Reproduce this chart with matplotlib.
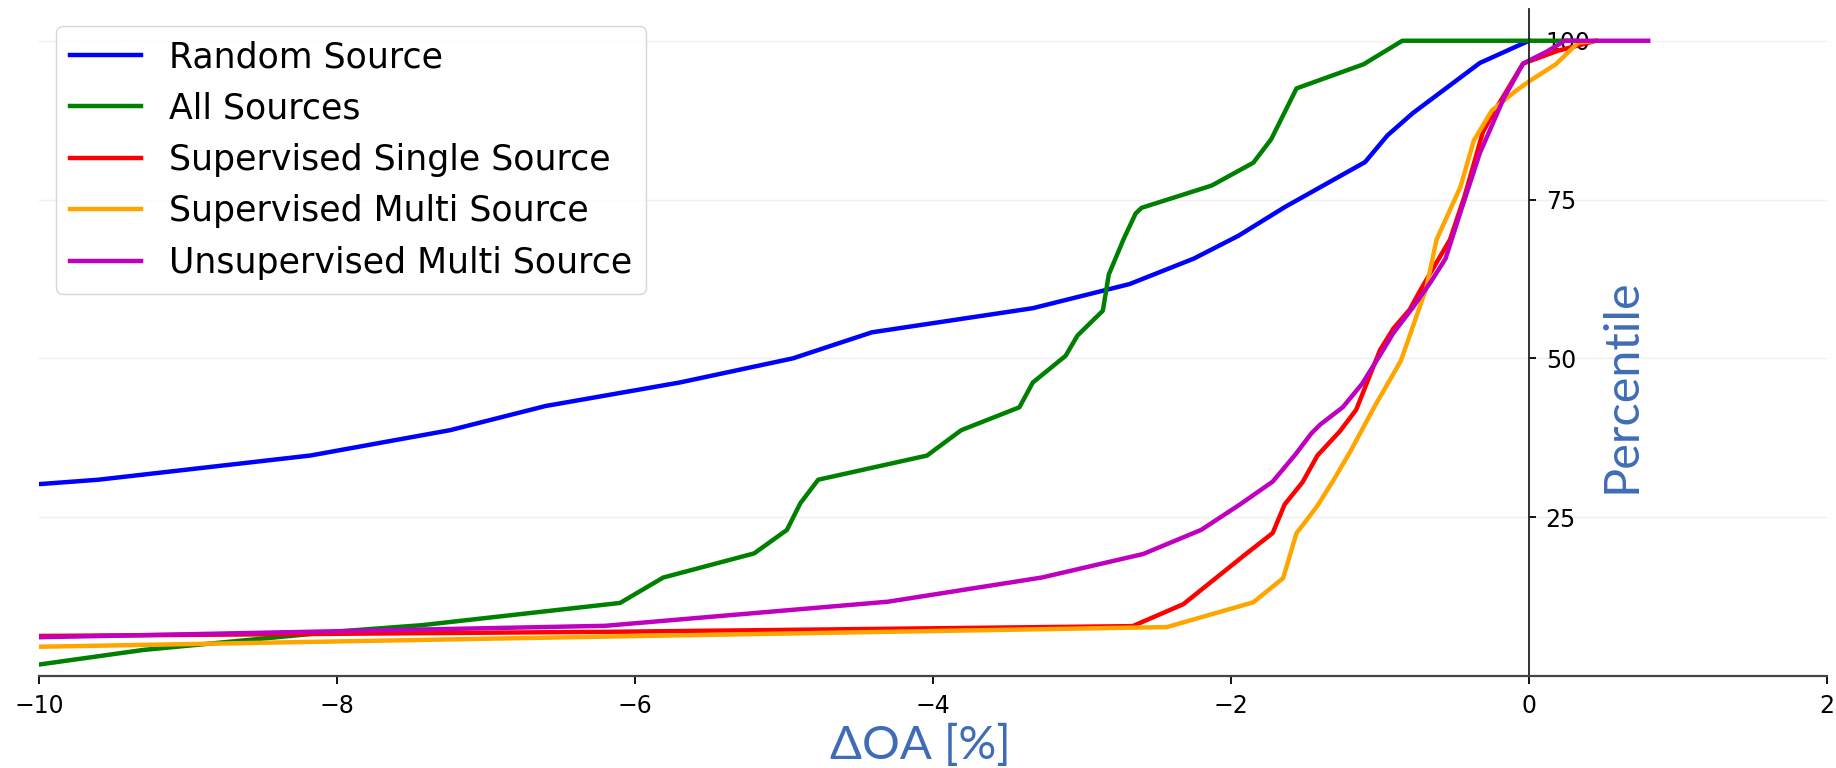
import numpy as np
import matplotlib
matplotlib.use("Agg")
import matplotlib.pyplot as plt

# curves (x = delta OA in %, y = percentile)
random_x = [-10, -9.6, -8.18, -7.24, -6.6, -5.7, -4.94, -4.41, -3.33, -2.68, -2.25, -1.95,
            -1.64, -1.10, -0.95, -0.78, -0.33, 0]
random_y = [30.2, 30.9, 34.7, 38.7, 42.5, 46.2, 50.0, 54.1, 57.9, 61.7, 65.7, 69.3,
            73.8, 80.9, 85.1, 88.6, 96.5, 100]

all_x = [-10, -9.3, -8.0, -7.43, -6.1, -5.81, -5.2, -4.98, -4.89, -4.77, -4.04, -3.81,
         -3.42, -3.33, -3.11, -3.03, -2.86, -2.82, -2.72, -2.64, -2.60, -2.13, -1.85,
         -1.73, -1.56, -1.11, -0.85, 0.3]
all_y = [1.8, 4.1, 7.0, 8.0, 11.5, 15.5, 19.3, 23.0, 27.2, 30.9, 34.7, 38.7,
         42.3, 46.2, 50.4, 53.6, 57.5, 63.2, 68.8, 72.8, 73.7, 77.2, 80.8,
         84.5, 92.5, 96.3, 100, 100]

sup_single_x = [-10, -6.2, -2.66, -2.32, -1.9, -1.72, -1.64, -1.52, -1.42, -1.27, -1.16,
                -1.0, -0.91, -0.80, -0.73, -0.53, -0.43, -0.31, -0.24, -0.04, 0.19, 0.45]
sup_single_y = [6.3, 6.95, 7.85, 11.3, 19.2, 22.5, 27.0, 30.5, 34.7, 38.5, 41.9,
                51.3, 54.7, 57.7, 60.7, 68.7, 75.7, 85.6, 88.6, 96.4, 98.4, 100]

sup_multi_x = [-10, -6.2, -2.43, -1.85, -1.65, -1.56, -1.50, -1.42, -1.31, -1.20, -1.03,
               -0.86, -0.69, -0.62, -0.46, -0.37, -0.25, -0.10, 0, 0.18, 0.33, 0.45]
sup_multi_y = [4.6, 6.2, 7.7, 11.6, 15.4, 22.5, 24.3, 26.8, 30.9, 35.3, 42.7,
               49.6, 61.0, 68.7, 77.0, 84.3, 89.0, 91.9, 93.6, 96.3, 99.7, 100]

unsup_multi_x = [-10, -6.2, -4.3, -3.27, -2.59, -2.2, -1.94, -1.72, -1.57, -1.46, -1.40,
                 -1.25, -1.12, -1.0, -0.91, -0.78, -0.66, -0.56, -0.46, -0.33, -0.17,
                 -0.04, 0.12, 0.24, 0.8]
unsup_multi_y = [6.1, 7.9, 11.7, 15.5, 19.2, 23.0, 27.0, 30.6, 34.8, 38.2, 39.6,
                 42.3, 46.0, 50.5, 54.0, 58.0, 62.0, 65.7, 73.0, 82.3, 90.9,
                 96.4, 98.3, 100, 100]

labels = ["Random Source", "All Sources", "Supervised Single Source",
          "Supervised Multi Source", "Unsupervised Multi Source"]
colors = ["blue", "green", "red", "orange", "m"]
xticks = [-10, -8, -6, -4, -2, 0, 2]
yticks = [25, 50, 75, 100]

label_color = "#3f6db5"

fig = plt.figure(figsize=(18.36, 7.68), dpi=100)
ax = fig.add_axes([0.0212, 0.1198, 0.9739, 0.8685])

series = [(random_x, random_y), (all_x, all_y), (sup_single_x, sup_single_y),
          (sup_multi_x, sup_multi_y), (unsup_multi_x, unsup_multi_y)]
for (xs, ys), lab, col in zip(series, labels, colors):
    ax.plot(xs, ys, color=col, lw=3.2, label=lab)

ax.set_xlim(-10, 2)
ax.set_ylim(0, 105)
ax.set_xticks(xticks)
ax.set_yticks(yticks)
ax.grid(axis="y", color="#efefef", lw=1)
ax.set_axisbelow(True)

ax.spines["top"].set_visible(False)
ax.spines["left"].set_visible(False)
ax.spines["right"].set_position(("data", 0))
ax.spines["right"].set_color("#222222")
ax.spines["right"].set_linewidth(1.3)
ax.spines["bottom"].set_color("#444444")
ax.spines["bottom"].set_linewidth(1.6)
ax.yaxis.tick_right()
ax.tick_params(axis="y", labelsize=17, length=5, width=1.3, pad=7)
ax.tick_params(axis="x", labelsize=17, length=6, width=1.3, pad=7)

leg = ax.legend(loc="upper left", fontsize=25, handlelength=2.05, labelspacing=0.5,
                borderaxespad=0.5, fancybox=True)
leg.get_frame().set_edgecolor("#cccccc")

ax.text(0.885, 0.435, "Percentile", transform=ax.transAxes, rotation=90,
        ha="center", va="center", fontsize=35, color=label_color, family="Lato")
fig.text(920 / 1836, 1 - 745 / 768, "\u0394OA [%]", ha="center", va="center",
         fontsize=34, color=label_color, family="Lato")

fig.savefig("out.png", dpi=100)
